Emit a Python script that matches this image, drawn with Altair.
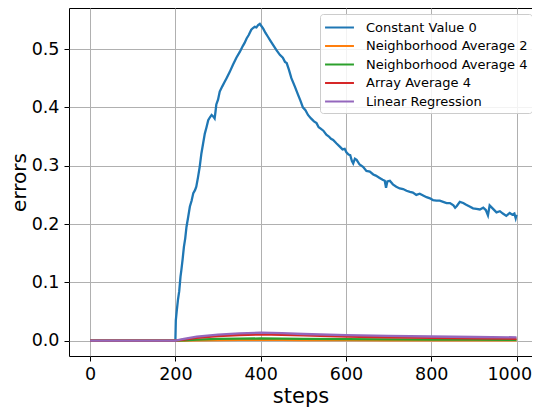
import altair as alt
import pandas as pd

# ---- data ----
blue_steps = [0, 199, 200, 201, 203, 206, 209, 212, 214, 217, 220, 223, 226, 230, 234, 238, 242, 246, 249, 253,
              257, 261, 265, 269, 273, 277, 281, 285, 289, 292, 294, 296, 300, 304, 310, 315, 320, 327, 335, 343,
              351, 358, 362, 367, 372, 378, 382, 386, 390, 394, 398, 402, 406, 411, 417, 423, 429, 437, 445, 452,
              457, 461, 466, 472, 480, 488, 493, 499, 505, 511, 518, 525, 531, 536, 540, 547, 554, 560, 565, 570,
              578, 585, 592, 597, 601, 606, 610, 614, 617, 621, 625, 632, 640, 648, 656, 664, 670, 679, 686, 691,
              694, 697, 703, 710, 718, 726, 734, 742, 750, 757, 765, 773, 781, 789, 797, 804, 812, 820, 828, 836,
              844, 852, 856, 860, 867, 875, 882, 890, 898, 906, 914, 922, 928, 933, 937, 945, 953, 961, 968, 976,
              984, 990, 995, 998, 1000]
blue_vals = [0.0, 0.0, 0.0, 0.035, 0.05, 0.07, 0.085, 0.11, 0.121, 0.14, 0.161, 0.175, 0.195, 0.212, 0.230, 0.24,
             0.253, 0.258, 0.264, 0.28, 0.298, 0.321, 0.338, 0.355, 0.366, 0.378, 0.383, 0.387, 0.384, 0.381, 0.392,
             0.405, 0.413, 0.427, 0.436, 0.443, 0.450, 0.46, 0.473, 0.485, 0.495, 0.505, 0.51, 0.518, 0.524, 0.533,
             0.536, 0.538, 0.537, 0.541, 0.543, 0.539, 0.535, 0.528, 0.521, 0.514, 0.507, 0.498, 0.490, 0.485, 0.478,
             0.476, 0.465, 0.450, 0.436, 0.421, 0.412, 0.400, 0.395, 0.387, 0.381, 0.376, 0.373, 0.366, 0.364, 0.36,
             0.353, 0.35, 0.346, 0.344, 0.338, 0.333, 0.328, 0.329, 0.323, 0.319, 0.318, 0.308, 0.304, 0.312, 0.310,
             0.302, 0.298, 0.291, 0.290, 0.285, 0.283, 0.279, 0.276, 0.274, 0.262, 0.273, 0.274, 0.268, 0.264, 0.261,
             0.26, 0.257, 0.255, 0.254, 0.25, 0.252, 0.249, 0.246, 0.244, 0.241, 0.240, 0.240, 0.238, 0.236, 0.236,
             0.232, 0.228, 0.231, 0.238, 0.236, 0.233, 0.230, 0.227, 0.226, 0.225, 0.228, 0.224, 0.215, 0.232, 0.226,
             0.220, 0.222, 0.218, 0.214, 0.219, 0.216, 0.218, 0.210, 0.216]

small_steps = [0, 200, 220, 250, 300, 350, 400, 450, 500, 600, 700, 800, 900, 1000]
orange_vals = [0, 0, 0.0003, 0.0007, 0.0011, 0.0013, 0.0014, 0.0013, 0.0012, 0.0010, 0.0008, 0.0007, 0.0006, 0.0005]
green_vals = [0, 0, 0.0008, 0.0020, 0.0030, 0.0036, 0.0038, 0.0036, 0.0032, 0.0026, 0.0022, 0.0019, 0.0017, 0.0015]
red_vals = [0, 0, 0.0020, 0.0050, 0.0080, 0.0098, 0.0108, 0.0102, 0.0090, 0.0072, 0.0058, 0.0048, 0.0040, 0.0034]
purple_vals = [0, 0, 0.0030, 0.0070, 0.0105, 0.0125, 0.0137, 0.0130, 0.0115, 0.0095, 0.0082, 0.0072, 0.0064, 0.0058]

series_names = ["Constant Value 0", "Neighborhood Average 2", "Neighborhood Average 4",
                "Array Average 4", "Linear Regression"]
series_colors = ["#1f77b4", "#ff7f0e", "#2ca02c", "#d62728", "#9467bd"]
x_ticks = [0, 200, 400, 600, 800, 1000]
y_ticks = [0.0, 0.1, 0.2, 0.3, 0.4, 0.5]

rows = []
for s, v in zip(blue_steps, blue_vals):
    rows.append({"steps": s, "errors": v, "series": series_names[0], "order": 0})
for k, vals in enumerate([orange_vals, green_vals, red_vals, purple_vals], start=1):
    for s, v in zip(small_steps, vals):
        rows.append({"steps": s, "errors": v, "series": series_names[k], "order": k})
df = pd.DataFrame(rows)

color = alt.Color(
    "series:N",
    scale=alt.Scale(domain=series_names, range=series_colors),
    legend=alt.Legend(
        title=None, orient="none", legendX=251, legendY=6,
        symbolType="M-1.7,0H1.7", symbolSize=289, symbolStrokeWidth=2,
        symbolOffset=6, labelOffset=17, labelLimit=400,
        labelFontSize=13, labelColor="black", labelFont="DejaVu Sans",
        rowPadding=1.5, padding=4,
        fillColor="rgba(255,255,255,0.85)", strokeColor="#cccccc", cornerRadius=3,
    ),
)

chart = alt.Chart(df).mark_line(strokeWidth=2.3).encode(
    x=alt.X("steps:Q", scale=alt.Scale(domain=[-49.5, 1036.3], nice=False, zero=False),
            axis=alt.Axis(values=x_ticks, format="d", title="steps",
                          labelFlush=18, labelFlushOffset=15)),
    y=alt.Y("errors:Q", scale=alt.Scale(domain=[-0.0262, 0.5703], nice=False, zero=False),
            axis=alt.Axis(values=y_ticks, format=".1f", title="errors")),
    color=color,
    detail="series:N",
    order=alt.Order("order:Q"),
).properties(
    width=463, height=348,
    autosize=alt.AutoSizeParams(type="none"),
    padding={"left": 61, "top": 0, "right": 0, "bottom": 54},
).configure_view(
    stroke="black", strokeWidth=1,
).configure_axis(
    domain=False, grid=True, gridColor="#b0b0b0", gridWidth=1,
    tickColor="black", tickSize=5, tickWidth=1,
    labelFont="DejaVu Sans", labelFontSize=17.5, labelColor="black",
    titleFont="DejaVu Sans", titleFontSize=21, titleFontWeight="normal", titleColor="black",
    labelPadding=4,
).configure_axisY(
    titlePadding=2, labelPadding=5, titleFontSize=20,
).configure_axisX(
    titlePadding=3,
)

chart.save("out.html", embed_options={"renderer": "svg", "actions": False})
